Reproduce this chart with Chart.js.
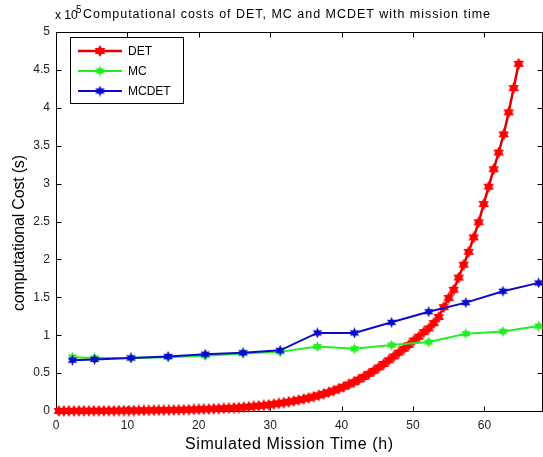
<!DOCTYPE html>
<html>
<head>
<meta charset="utf-8">
<title>Computational costs</title>
<script src="https://cdn.jsdelivr.net/npm/chart.js@4.4.0/dist/chart.umd.min.js"></script>
<style>
  html, body { margin: 0; padding: 0; background: #fff; overflow: hidden; }
  #costChart { display: block; }
</style>
</head>
<body>
<canvas id="costChart" width="548" height="457"></canvas>
<script>
// DET is sampled densely, MC / MCDET only every ~5 h (values in units of 1e5 s)
const detTime = [
  0.4, 1.1, 1.8, 2.5, 3.2, 3.9, 4.6, 5.3, 6.0, 6.7, 7.4, 8.1, 8.8, 9.5, 10.2,
  10.9, 11.6, 12.3, 13.0, 13.7, 14.4, 15.1, 15.8, 16.5, 17.2, 17.9, 18.6, 19.3,
  20.0, 20.7, 21.4, 22.1, 22.8, 23.5, 24.2, 24.9, 25.6, 26.3, 27.0, 27.7, 28.4,
  29.1, 29.8, 30.5, 31.2, 31.9, 32.6, 33.3, 34.0, 34.7, 35.4, 36.1, 36.8, 37.5,
  38.2, 38.9, 39.6, 40.3, 41.0, 41.7, 42.4, 43.1, 43.8, 44.5, 45.2, 45.9, 46.6,
  47.3, 48.0, 48.7, 49.4, 50.1, 50.8, 51.5, 52.2, 52.9, 53.6, 54.3, 55.0, 55.7,
  56.4, 57.1, 57.8, 58.5, 59.2, 59.9, 60.6, 61.3, 62.0, 62.7, 63.4, 64.1, 64.8
];
const detCost = [
  0.000, 0.001, 0.001, 0.001, 0.002, 0.002, 0.002, 0.003, 0.003, 0.003, 0.004,
  0.004, 0.005, 0.005, 0.006, 0.006, 0.007, 0.008, 0.009, 0.010, 0.011, 0.012,
  0.013, 0.014, 0.015, 0.016, 0.018, 0.020, 0.022, 0.024, 0.026, 0.029, 0.032,
  0.035, 0.038, 0.042, 0.046, 0.051, 0.056, 0.062, 0.068, 0.075, 0.083, 0.091,
  0.100, 0.110, 0.121, 0.132, 0.145, 0.158, 0.173, 0.189, 0.207, 0.226, 0.247,
  0.270, 0.295, 0.320, 0.350, 0.380, 0.415, 0.450, 0.490, 0.530, 0.575, 0.620,
  0.670, 0.720, 0.770, 0.820, 0.870, 0.930, 0.980, 1.040, 1.090, 1.160, 1.240,
  1.370, 1.490, 1.600, 1.760, 1.930, 2.100, 2.290, 2.490, 2.730, 2.960, 3.190,
  3.410, 3.650, 3.940, 4.260, 4.580
];
const sampleTime = [2.3, 5.4, 10.5, 15.7, 20.9, 26.2, 31.4, 36.6, 41.8, 47.0, 52.2, 57.4, 62.6, 67.6];
const mcCost = [0.71, 0.70, 0.70, 0.71, 0.73, 0.76, 0.78, 0.85, 0.82, 0.87, 0.91, 1.02, 1.05, 1.12];
const mcdetCost = [0.67, 0.68, 0.70, 0.72, 0.75, 0.77, 0.80, 1.03, 1.03, 1.17, 1.31, 1.43, 1.58, 1.69];

const xTicks = [0, 10, 20, 30, 40, 50, 60];
const yTicks = [0, 0.5, 1, 1.5, 2, 2.5, 3, 3.5, 4, 4.5, 5];

const titleText = "Computational costs of DET, MC and MCDET with mission time";
const xTitle = "Simulated Mission Time (h)";
const yTitle = "computational Cost (s)";

function toPoints(xs, ys) {
  return xs.map((x, i) => ({ x: x, y: ys[i] }));
}

// filled six point star, used as marker
function makeStar(color, size, inner) {
  const c = document.createElement("canvas");
  c.width = size;
  c.height = size;
  const g = c.getContext("2d");
  const r = size / 2;
  g.fillStyle = color;
  g.beginPath();
  for (let i = 0; i < 12; i++) {
    const rad = i % 2 === 0 ? r : r * inner;
    const a = (Math.PI / 6) * i - Math.PI / 2;
    g.lineTo(r + rad * Math.cos(a), r + rad * Math.sin(a));
  }
  g.closePath();
  g.fill();
  return c;
}

const redStar = makeStar("#ff0000", 12, 0.6);
const greenStar = makeStar("#22ee22", 11, 0.5);
const blueStar = makeStar("#0a0acc", 11, 0.5);

function spacedText(ctx, text, x, y, width) {
  ctx.letterSpacing = "0px";
  const w = ctx.measureText(text).width;
  ctx.letterSpacing = (width - w) / (text.length - 1) + "px";
  ctx.fillText(text, x, y);
  ctx.letterSpacing = "0px";
}

const matlabLook = {
  id: "matlabLook",
  beforeDatasetsDraw(chart) {
    const { ctx, chartArea: a, scales } = chart;
    const l = Math.round(a.left) + 0.5;
    const t = Math.round(a.top) + 0.5;
    const r = Math.round(a.right) + 0.5;
    const b = Math.round(a.bottom) + 0.5;
    ctx.save();
    ctx.strokeStyle = "#000";
    ctx.lineWidth = 1;
    ctx.strokeRect(l, t, r - l, b - t);
    ctx.beginPath();
    scales.x.ticks.forEach((tk) => {
      const px = Math.round(scales.x.getPixelForValue(tk.value)) + 0.5;
      ctx.moveTo(px, b); ctx.lineTo(px, b - 5);
      ctx.moveTo(px, t); ctx.lineTo(px, t + 5);
    });
    scales.y.ticks.forEach((tk) => {
      const py = Math.round(scales.y.getPixelForValue(tk.value)) + 0.5;
      ctx.moveTo(l, py); ctx.lineTo(l + 5, py);
      ctx.moveTo(r, py); ctx.lineTo(r - 5, py);
    });
    ctx.stroke();
    ctx.restore();
  },
  afterDraw(chart) {
    const { ctx } = chart;
    ctx.save();
    ctx.fillStyle = "#000";
    ctx.textBaseline = "alphabetic";
    ctx.textAlign = "left";

    // exponent and title
    ctx.font = "12px 'Liberation Sans', Arial, sans-serif";
    ctx.fillText("x 10", 55, 19);
    ctx.font = "10px 'Liberation Sans', Arial, sans-serif";
    ctx.fillText("5", 76, 13);
    ctx.font = "12.5px 'Liberation Sans', Arial, sans-serif";
    spacedText(ctx, titleText, 83, 18, 407);

    // axis titles
    ctx.font = "16px 'Liberation Sans', Arial, sans-serif";
    spacedText(ctx, xTitle, 185, 449, 208);
    ctx.translate(24, 233);
    ctx.rotate(-Math.PI / 2);
    spacedText(ctx, yTitle, -78, 0, 156);
    ctx.setTransform(1, 0, 0, 1, 0, 0);

    // legend
    ctx.fillStyle = "#fff";
    ctx.fillRect(70, 37, 113, 66);
    ctx.strokeStyle = "#000";
    ctx.lineWidth = 1;
    ctx.strokeRect(70.5, 37.5, 113, 66);
    ctx.font = "12px 'Liberation Sans', Arial, sans-serif";
    ctx.textBaseline = "middle";
    chart.data.datasets.forEach((ds, i) => {
      const y = 51 + i * 20;
      ctx.strokeStyle = ds.borderColor;
      ctx.lineWidth = ds.borderWidth;
      ctx.beginPath();
      ctx.moveTo(78, y);
      ctx.lineTo(122, y);
      ctx.stroke();
      const m = ds.pointStyle;
      ctx.drawImage(m, 100 - m.width / 2, y - m.height / 2);
      ctx.fillStyle = "#000";
      ctx.fillText(ds.label, 128, y + 1);
    });
    ctx.restore();
  }
};

const ctx = document.getElementById("costChart").getContext("2d");

new Chart(ctx, {
  type: "line",
  data: {
    datasets: [
      {
        label: "DET",
        data: toPoints(detTime, detCost),
        borderColor: "#e00000",
        borderWidth: 2.5,
        pointStyle: redStar,
        order: 3,
        clip: false
      },
      {
        label: "MC",
        data: toPoints(sampleTime, mcCost),
        borderColor: "#22ee22",
        borderWidth: 2,
        pointStyle: greenStar,
        order: 2,
        clip: false
      },
      {
        label: "MCDET",
        data: toPoints(sampleTime, mcdetCost),
        borderColor: "#0a0acc",
        borderWidth: 2,
        pointStyle: blueStar,
        order: 1,
        clip: false
      }
    ]
  },
  options: {
    responsive: false,
    animation: false,
    layout: { padding: { top: 32, right: 3, left: 0, bottom: 0 } },
    plugins: {
      legend: { display: false },
      tooltip: { enabled: false },
      title: { display: false }
    },
    scales: {
      x: {
        type: "linear",
        min: 0,
        max: 68,
        afterFit: (s) => { s.height = 46; },
        afterBuildTicks: (s) => { s.ticks = xTicks.map((v) => ({ value: v })); },
        grid: { display: false, drawTicks: false },
        border: { display: false },
        ticks: {
          color: "#222",
          padding: 7,
          maxRotation: 0,
          callback: (v) => String(v),
          font: { family: "'Liberation Sans', Arial, sans-serif", size: 12 }
        }
      },
      y: {
        min: 0,
        max: 5,
        afterFit: (s) => { s.width = 56; },
        afterBuildTicks: (s) => { s.ticks = yTicks.map((v) => ({ value: v })); },
        grid: { display: false, drawTicks: false },
        border: { display: false },
        ticks: {
          color: "#222",
          padding: 6,
          callback: (v) => String(v),
          font: { family: "'Liberation Sans', Arial, sans-serif", size: 12 }
        }
      }
    }
  },
  plugins: [matlabLook]
});
</script>
</body>
</html>
